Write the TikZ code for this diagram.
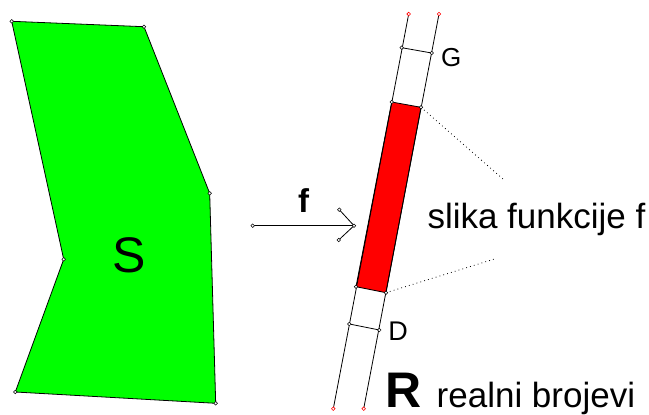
\documentclass[tikz,border=0pt]{standalone}
\usepackage{fontspec}
\setmainfont{Liberation Sans}
\tikzset{
  vtx/.style={circle,draw=black,fill=white,inner sep=0pt,minimum size=3.6pt,line width=0.5pt},
  rvtx/.style={circle,draw=red,fill=white,inner sep=0pt,minimum size=3.6pt,line width=0.6pt},
  edge/.style={draw=black,line width=0.8pt},
  dotline/.style={draw=black,line width=0.8pt,dash pattern=on 0.8pt off 3.2pt},
  lbl/.style={inner sep=0pt,anchor=base}
}
\begin{document}
\begin{tikzpicture}[x=1pt,y=-1pt]
\useasboundingbox (0,0) rectangle (649,415);
% region S
\coordinate (p1) at (11.7,21.3);
\coordinate (p2) at (144,26.7);
\coordinate (p3) at (209.7,193.3);
\coordinate (p4) at (215.7,403.3);
\coordinate (p5) at (15.3,392);
\coordinate (p6) at (63.7,259.3);
\filldraw[fill={rgb,255:red,0;green,255;blue,0},draw=black,line width=0.8pt]
  (p1) -- (p2) -- (p3) -- (p4) -- (p5) -- (p6) -- cycle;
\foreach \p in {p1,p2,p3,p4,p5,p6} \node[vtx] at (\p) {};
\node[lbl,font=\fontsize{50}{60}\selectfont] (S) at (128.8,272.5) {S};
% real line strip
\coordinate (l1) at (408.7,14);
\coordinate (l2) at (333.3,408.7);
\coordinate (r1) at (439,14);
\coordinate (r2) at (363.7,408.7);
\coordinate (g1) at (401.7,47.7);
\coordinate (g2) at (431.7,53);
\coordinate (a1) at (391.7,102);
\coordinate (a2) at (421,107.3);
\coordinate (b1) at (356,286.7);
\coordinate (b2) at (386,292.7);
\coordinate (d1) at (349.3,324);
\coordinate (d2) at (379.3,330);
\filldraw[fill=red,draw=black,line width=0.8pt] (a1) -- (a2) -- (b2) -- (b1) -- cycle;
\draw[edge] (l1) -- (l2);
\draw[edge] (r1) -- (r2);
\draw[edge] (g1) -- (g2);
\draw[edge] (d1) -- (d2);
\coordinate (t1) at (503.3,179.3);
\coordinate (t2) at (496.7,258.3);
\draw[dotline] (a2) -- (t1);
\draw[dotline] (b2) -- (t2);
\foreach \p in {g1,g2,a1,a2,b1,b2,d1,d2} \node[vtx] at (\p) {};
\node[rvtx] (L1) at (l1) {};
\node[rvtx] (L2) at (l2) {};
\node[rvtx] (R1) at (r1) {};
\node[rvtx] (R2) at (r2) {};
\node[lbl,font=\fontsize{26}{31}\selectfont] (G) at (451.2,66.9) {G};
\node[lbl,font=\fontsize{27}{32}\selectfont] (D) at (398,340) {D};
% arrow f
\coordinate (f0) at (252.7,225.7);
\coordinate (f1) at (354,225.7);
\coordinate (f2) at (339.3,209.7);
\coordinate (f3) at (338.7,240);
\draw[edge] (f0) -- (f1);
\draw[edge] (f2) -- (f1) -- (f3);
\foreach \p in {f0,f1,f2,f3} \node[vtx] at (\p) {};
\node[lbl,font=\fontsize{33}{40}\selectfont\bfseries] (f) at (303.7,212.7) {f};
% labels
\node[inner sep=0pt,anchor=base west,font=\fontsize{35}{42}\selectfont] (slika) at (427.3,228.3) {slika funkcije f};
\node[inner sep=0pt,anchor=base west,text depth=0pt,font=\fontsize{50}{60}\selectfont\bfseries] (R) at (385.5,407.3) {R};
\node[inner sep=0pt,anchor=base west,font=\fontsize{35}{42}\selectfont] (realni) at (436.5,407.3) {realni brojevi};
\end{tikzpicture}
\end{document}
